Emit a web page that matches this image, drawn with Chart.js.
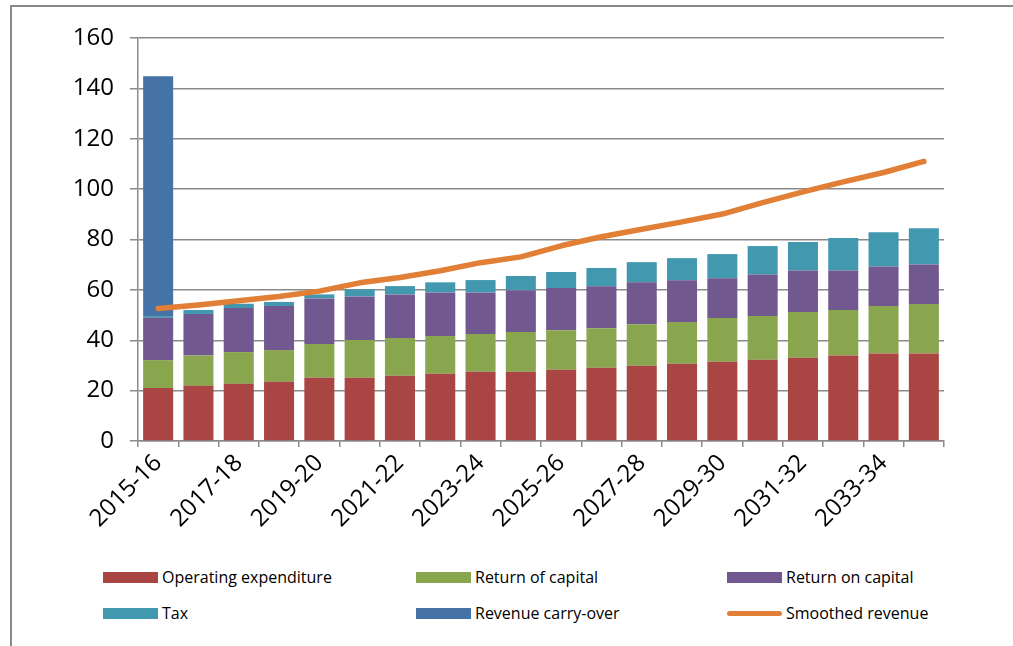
<!DOCTYPE html>
<html>
<head>
<meta charset="utf-8">
<script src="https://cdn.jsdelivr.net/npm/chart.js@4.4.1/dist/chart.umd.min.js"></script>
<style>
    body { margin: 0; background: #fff; overflow: hidden; }
    #frame {
        position: absolute; left: 10px; top: 5px; width: 1100px; height: 700px;
        border-top: 2px solid #8a8a8a; border-left: 2px solid #8a8a8a;
    }
    #wrap { position: absolute; left: 0; top: 0; width: 1013px; height: 560px; }
    .legend-item {
        position: absolute; display: flex; align-items: center;
        font-family: 'Open Sans', sans-serif; font-size: 16px; color: #000;
    }
    .swatch { width: 55px; height: 11px; margin-right: 4px; }
    .swatch.line { height: 5px; border-radius: 3px; }
</style>
</head>
<body>
<div id="frame"></div>
<div id="wrap"><canvas id="chart" width="1013" height="560"></canvas></div>
<div id="legend"></div>
<script>
// Categories
const years = ['2015-16', '2016-17', '2017-18', '2018-19', '2019-20', '2020-21', '2021-22',
    '2022-23', '2023-24', '2024-25', '2025-26', '2026-27', '2027-28', '2028-29', '2029-30',
    '2030-31', '2031-32', '2032-33', '2033-34', '2034-35'];

// Series values
const operatingExpenditure = [21.0, 21.9, 22.7, 23.5, 25.1, 25.1, 25.9, 26.7, 27.5, 27.5,
    28.3, 29.1, 29.9, 30.7, 31.5, 32.3, 33.1, 33.9, 34.7, 34.7];
const returnOfCapital = [11.1, 12.0, 12.6, 12.6, 13.4, 15.0, 15.0, 15.0, 15.0, 15.8,
    15.7, 15.7, 16.5, 16.5, 17.3, 17.3, 18.1, 18.1, 18.9, 19.7];
const returnOnCapital = [16.8, 16.5, 17.5, 17.5, 18.1, 17.3, 17.3, 17.3, 16.5, 16.6,
    16.7, 16.6, 16.6, 16.6, 15.8, 16.5, 16.5, 15.7, 15.7, 15.7];
const tax = [0.7, 1.6, 1.7, 1.6, 1.6, 2.8, 3.3, 4.0, 4.9, 5.6,
    6.4, 7.3, 8.0, 8.8, 9.6, 11.3, 11.3, 12.9, 13.6, 14.4];
const revenueCarryOver = [95.2, 0, 0, 0, 0, 0, 0, 0, 0, 0, 0, 0, 0, 0, 0, 0, 0, 0, 0, 0];
const smoothedRevenue = [52.6, 54.0, 55.7, 57.4, 59.5, 62.8, 64.9, 67.6, 70.8, 73.1,
    77.5, 81.1, 84.1, 87.0, 90.1, 94.6, 98.9, 102.9, 106.6, 111.0];

const gridColor = '#8a8a8a';
const tickFont = { family: 'Open Sans', size: 24 };

function bar(label, data, color) {
    return {
        type: 'bar', label: label, data: data, backgroundColor: color,
        borderWidth: 0, barPercentage: 0.745, categoryPercentage: 1, order: 2
    };
}

const ctx = document.getElementById('chart').getContext('2d');
const chart = new Chart(ctx, {
    data: {
        labels: years,
        datasets: [
            bar('Operating expenditure', operatingExpenditure, '#a94543'),
            bar('Return of capital', returnOfCapital, '#89a54e'),
            bar('Return on capital', returnOnCapital, '#71588f'),
            bar('Tax', tax, '#4198af'),
            bar('Revenue carry-over', revenueCarryOver, '#4572a7'),
            {
                type: 'line', label: 'Smoothed revenue', data: smoothedRevenue,
                borderColor: '#e07f35', backgroundColor: '#e07f35', borderWidth: 5.5,
                pointRadius: 0, tension: 0, borderCapStyle: 'round', borderJoinStyle: 'round',
                order: 1
            }
        ]
    },
    options: {
        responsive: false,
        animation: false,
        layout: { padding: { top: 38, right: 69, bottom: 0, left: 0 } },
        plugins: { legend: { display: false }, tooltip: { enabled: false } },
        scales: {
            x: {
                stacked: true,
                offset: true,
                grid: { offset: true, drawOnChartArea: false, drawTicks: true, tickLength: 6, color: gridColor, lineWidth: 1.5 },
                border: { color: gridColor, width: 1.5 },
                ticks: {
                    autoSkip: false, maxRotation: 45, minRotation: 45, padding: 2,
                    color: '#000', font: tickFont,
                    callback: function (v, i) { return i % 2 === 0 ? this.getLabelForValue(v) : ''; }
                },
                afterFit: (s) => { s.height = 119; }
            },
            y: {
                stacked: true,
                min: 0, max: 160,
                ticks: { stepSize: 20, color: '#000', font: tickFont, padding: 16 },
                grid: { color: gridColor, lineWidth: 1.5, tickLength: 8 },
                border: { color: gridColor, width: 1.5 },
                afterFit: (s) => { s.width = 138; }
            }
        }
    }
});

// Legend laid out in a 3 x 2 grid like the original
const legendCols = [103, 416, 727];
const legendRows = [577, 613];
const legend = document.getElementById('legend');
chart.data.datasets.forEach((ds, i) => {
    const item = document.createElement('div');
    item.className = 'legend-item';
    item.style.left = legendCols[i % 3] + 'px';
    item.style.top = (legendRows[Math.floor(i / 3)] - 11) + 'px';
    item.style.height = '22px';
    const sw = document.createElement('span');
    sw.className = ds.type === 'line' ? 'swatch line' : 'swatch';
    sw.style.background = ds.type === 'line' ? ds.borderColor : ds.backgroundColor;
    const txt = document.createElement('span');
    txt.textContent = ds.label;
    item.appendChild(sw);
    item.appendChild(txt);
    legend.appendChild(item);
});
</script>
</body>
</html>
